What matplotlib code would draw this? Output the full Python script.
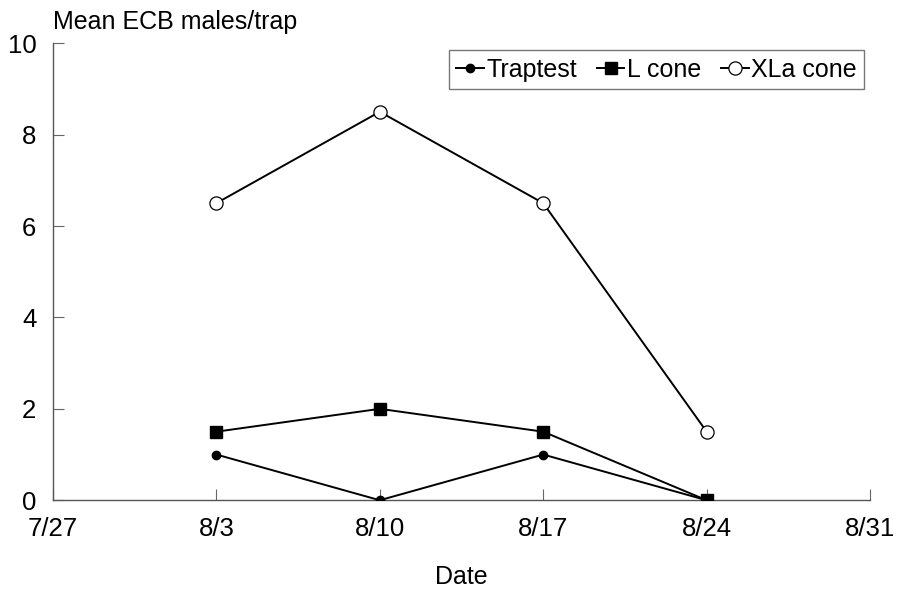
import datetime as dt
import matplotlib
matplotlib.use("Agg")
import matplotlib.pyplot as plt
import matplotlib.dates as mdates

# trap catch data
dates = [dt.date(1998, 8, 3), dt.date(1998, 8, 10), dt.date(1998, 8, 17), dt.date(1998, 8, 24)]
traptest = [1.0, 0.0, 1.0, 0.0]
l_cone = [1.5, 2.0, 1.5, 0.0]
xla_cone = [6.5, 8.5, 6.5, 1.5]

tick_dates = [dt.date(1998, 7, 27) + dt.timedelta(days=7 * i) for i in range(6)]
y_ticks = [0, 2, 4, 6, 8, 10]

plt.rcParams['font.family'] = ['Liberation Sans', 'DejaVu Sans']

fig = plt.figure(figsize=(8.97, 5.92), dpi=100)
ax = fig.add_axes([0.059, 0.155, 0.911, 0.772])

ax.plot(dates, traptest, '-o', color='black', lw=1.4, ms=6, label='Traptest', zorder=3)
ax.plot(dates, l_cone, '-s', color='black', lw=1.4, ms=8.5, label='L cone', zorder=3)
ax.plot(dates, xla_cone, '-o', color='black', lw=1.4, ms=9.5, mfc='white', mew=0.9,
        label='XLa cone', zorder=3)

ax.set_xlim(tick_dates[0], tick_dates[-1])
ax.set_ylim(0, 10)
ax.set_xticks(tick_dates)
ax.xaxis.set_major_formatter(mdates.DateFormatter('%-m/%-d'))
ax.set_yticks(y_ticks)

for side in ['top', 'right']:
    ax.spines[side].set_visible(False)
for side in ['left', 'bottom']:
    ax.spines[side].set_color('#555555')
    ax.spines[side].set_linewidth(1.0)

ax.tick_params(axis='both', direction='in', length=8, width=0.8, color='#666666',
               labelsize=18.5)
ax.tick_params(axis='x', pad=12)
ax.tick_params(axis='y', pad=12)

ax.set_xlabel('Date', fontsize=18, labelpad=17)
fig.text(0.059, 0.962, 'Mean ECB males/trap', fontsize=18, ha='left', va='center')

leg = ax.legend(loc='upper right', bbox_to_anchor=(0.993, 0.985), ncol=3, fontsize=18,
                frameon=True, fancybox=False, handlelength=1.1, handletextpad=0.1,
                columnspacing=0.8, borderpad=0.3, numpoints=1, borderaxespad=0)
leg.get_frame().set_edgecolor('#555555')
leg.get_frame().set_linewidth(1.0)

fig.savefig('out.png', dpi=100)
